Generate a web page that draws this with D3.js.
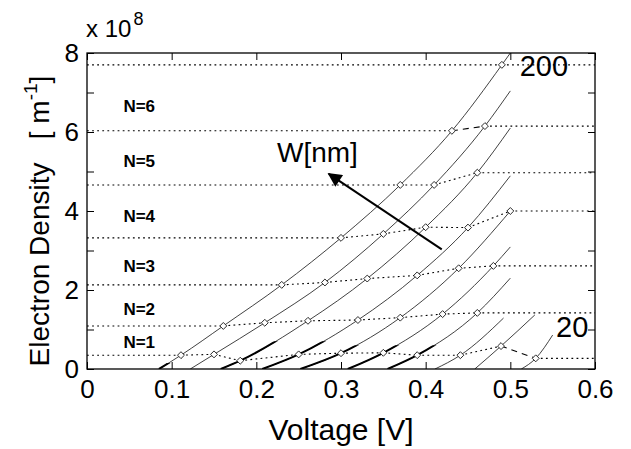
<!DOCTYPE html>
<html>
<head>
<meta charset="utf-8">
<script src="https://cdn.jsdelivr.net/npm/d3@7"></script>
<style>
body { margin: 0; background: #fff; }
text { font-family: "Liberation Sans", Arial, sans-serif; fill: #000; }
</style>
</head>
<body>
<svg id="chart" width="631" height="449"></svg>
<script>
// wire widths, one solid curve each (200 nm on the left, 20 nm on the right)
var widthsNm = [200, 180, 160, 140, 120, 100, 80, 60, 40, 20];
// voltage where each curve leaves the axis [V]
var thresholdV = [0.085, 0.122, 0.158, 0.207, 0.252, 0.308, 0.355, 0.411, 0.458, 0.513];
// diamonds: voltage and density (x 1e8 m^-1) where subband N = 1, 2, ... fills
var subbandV = [
	[0.111, 0.161, 0.230, 0.300, 0.370, 0.431, 0.490],
	[0.150, 0.210, 0.281, 0.350, 0.410, 0.470],
	[0.181, 0.261, 0.331, 0.400, 0.461],
	[0.250, 0.320, 0.390, 0.450],
	[0.300, 0.370, 0.439, 0.500],
	[0.350, 0.420, 0.480],
	[0.390, 0.461],
	[0.441],
	[0.489],
	[0.530]
];
var subbandN = [
	[0.35, 1.09, 2.13, 3.32, 4.66, 6.03, 7.70],
	[0.37, 1.17, 2.19, 3.42, 4.66, 6.15],
	[0.21, 1.22, 2.29, 3.59, 4.97],
	[0.37, 1.24, 2.37, 3.58],
	[0.40, 1.30, 2.55, 4.00],
	[0.41, 1.39, 2.61],
	[0.35, 1.42],
	[0.35],
	[0.58],
	[0.27]
];
// last computed point of each curve
var endV = [0.5, 0.5, 0.5, 0.5, 0.5, 0.5, 0.5, 0.492, 0.529, 0.550];
var endN = [8.0, 7.04, 6.10, 4.89, 4.00, 3.09, 2.30, 1.29, 1.37, 0.86];
// density below which the curve is drawn heavier
var heavyBelowN = [0.15, 0, 0.7, 0.7, 0.6, 0.6, 0.6, 0, 0, 0];
// links drawn dashed instead of dotted: [level index, curve index]
var dashedLinks = [[5, 0], [0, 8]];

var xTicks = [0, 0.1, 0.2, 0.3, 0.4, 0.5, 0.6];
var yTicks = [0, 1, 2, 3, 4, 5, 6, 7, 8];
var yTickLabels = [0, 2, 4, 6, 8];
var nLabels = ["N=1", "N=2", "N=3", "N=4", "N=5", "N=6"];
var nLabelN = [0.53, 1.37, 2.46, 3.72, 5.11, 6.51];

var svg = d3.select("#chart");
var pL = 87, pR = 595, pT = 53, pB = 369;

var x = d3.scaleLinear().domain([0, 0.6]).range([pL, pR]);
var y = d3.scaleLinear().domain([0, 8]).range([pB, pT]);

var defs = svg.append("defs");
defs.append("clipPath").attr("id", "plotclip")
	.append("rect").attr("x", pL).attr("y", pT)
	.attr("width", pR - pL).attr("height", pB - pT);

var plot = svg.append("g").attr("clip-path", "url(#plotclip)");

var line = d3.line()
	.x(function(d) { return x(d[0]); })
	.y(function(d) { return y(d[1]); })
	.curve(d3.curveMonotoneX);

// solid curves
for (var i = 0; i < widthsNm.length; i++) {
	var pts = [[thresholdV[i], 0]];
	for (var k = 0; k < subbandV[i].length; k++) {
		pts.push([subbandV[i][k], subbandN[i][k]]);
	}
	var last = pts[pts.length - 1];
	if (last[0] != endV[i] || last[1] != endN[i]) pts.push([endV[i], endN[i]]);

	plot.append("path")
		.attr("d", line(pts))
		.attr("fill", "none")
		.attr("stroke", "#111")
		.attr("stroke-width", 0.8);

	if (heavyBelowN[i] > 0) {
		var cid = "heavy" + i;
		defs.append("clipPath").attr("id", cid)
			.append("rect").attr("x", pL).attr("width", pR - pL)
			.attr("y", y(heavyBelowN[i])).attr("height", y(0) - y(heavyBelowN[i]));
		plot.append("g").attr("clip-path", "url(#" + cid + ")")
			.append("path")
			.attr("d", line(pts))
			.attr("fill", "none")
			.attr("stroke", "#000")
			.attr("stroke-width", 2);
	}
}

// subband level lines through the diamonds
var nLevels = d3.max(subbandV, function(a) { return a.length; });
var levelPts = [];
for (var lv = 0; lv < nLevels; lv++) {
	var row = [];
	for (var i = 0; i < widthsNm.length; i++) {
		if (subbandV[i].length > lv) row.push({v: subbandV[i][lv], n: subbandN[i][lv], c: i});
	}
	levelPts.push(row);

	var segs = [];
	segs.push({a: [0, row[0].n], b: [row[0].v, row[0].n], dash: false});
	for (var j = 0; j < row.length - 1; j++) {
		var isDashed = dashedLinks.some(function(dl) { return dl[0] == lv && dl[1] == row[j].c; });
		segs.push({a: [row[j].v, row[j].n], b: [row[j + 1].v, row[j + 1].n], dash: isDashed});
	}
	var lp = row[row.length - 1];
	segs.push({a: [lp.v, lp.n], b: [0.6, lp.n], dash: false});

	plot.selectAll(null)
		.data(segs)
		.enter()
		.append("line")
		.attr("x1", function(d) { return x(d.a[0]); })
		.attr("y1", function(d) { return y(d.a[1]); })
		.attr("x2", function(d) { return x(d.b[0]); })
		.attr("y2", function(d) { return y(d.b[1]); })
		.attr("stroke", "#000")
		.attr("stroke-width", 1.1)
		.attr("stroke-dasharray", function(d) { return d.dash ? "6,5" : "1.8,3.3"; });
}

// diamonds
var diamond = d3.symbol().type(d3.symbolSquare).size(24);
plot.selectAll(null)
	.data(d3.merge(levelPts))
	.enter()
	.append("path")
	.attr("d", diamond)
	.attr("transform", function(d) { return "translate(" + x(d.v) + "," + y(d.n) + ") rotate(45)"; })
	.attr("fill", "#fff")
	.attr("stroke", "#222")
	.attr("stroke-width", 0.9);

// axes, ticks pointing inward
var tickLen = 7;
svg.append("g").attr("transform", "translate(0," + pB + ")")
	.call(d3.axisBottom(x).tickValues(xTicks).tickSizeInner(-tickLen).tickSizeOuter(0).tickPadding(11)
		.tickFormat(function(d) { return d3.format("")(+d.toFixed(1)); }))
	.call(function(g) {
		g.select(".domain").remove();
		g.selectAll("text").attr("font-size", 26).attr("font-family", null);
	});
svg.append("g").attr("transform", "translate(0," + pT + ")")
	.call(d3.axisTop(x).tickValues(xTicks).tickSizeInner(-tickLen).tickSizeOuter(0).tickFormat(""))
	.call(function(g) { g.select(".domain").remove(); });
svg.append("g").attr("transform", "translate(" + pL + ",0)")
	.call(d3.axisLeft(y).tickValues(yTicks).tickSizeInner(-tickLen).tickSizeOuter(0).tickPadding(8)
		.tickFormat(function(d) { return yTickLabels.indexOf(d) >= 0 ? d : ""; }))
	.call(function(g) {
		g.select(".domain").remove();
		g.selectAll("text").attr("font-size", 26).attr("font-family", null);
	});
svg.append("g").attr("transform", "translate(" + pR + ",0)")
	.call(d3.axisRight(y).tickValues(yTicks).tickSizeInner(-tickLen).tickSizeOuter(0).tickFormat(""))
	.call(function(g) { g.select(".domain").remove(); });

svg.selectAll(".tick line").attr("stroke", "#000").attr("stroke-width", 1);

svg.append("rect")
	.attr("x", pL).attr("y", pT)
	.attr("width", pR - pL).attr("height", pB - pT)
	.attr("fill", "none").attr("stroke", "#000").attr("stroke-width", 1.3);

// exponent
var ex = svg.append("text").attr("x", pL - 1).attr("y", 37).attr("font-size", 24);
ex.append("tspan").text("x 10");
ex.append("tspan").attr("dx", 2).attr("dy", -12).attr("font-size", 18).text("8");

// axis titles
svg.append("text")
	.attr("x", (pL + pR) / 2).attr("y", 440)
	.attr("text-anchor", "middle").attr("font-size", 30)
	.text("Voltage [V]");

var yl = svg.append("text")
	.attr("transform", "translate(49," + ((pT + pB) / 2 + 10) + ") rotate(-90)")
	.attr("text-anchor", "middle").attr("font-size", 28);
yl.append("tspan").text("Electron Density\u00a0\u00a0 [ m");
yl.append("tspan").attr("dy", -12).attr("font-size", 19).text("-1");
yl.append("tspan").attr("dy", 12).text("]");

// subband labels
svg.selectAll(null)
	.data(nLabels)
	.enter()
	.append("text")
	.attr("x", x(0.043))
	.attr("y", function(d, i) { return y(nLabelN[i]); })
	.attr("font-size", 17)
	.attr("font-weight", "bold")
	.text(function(d) { return d; });

// width labels at the ends of the family
svg.append("text").attr("x", x(0.511)).attr("y", y(7.42)).attr("font-size", 29).text(widthsNm[0]);
svg.append("text").attr("x", x(0.554)).attr("y", y(0.81)).attr("font-size", 29).text(widthsNm[widthsNm.length - 1]);

// arrow for increasing W
defs.append("marker")
	.attr("id", "head").attr("viewBox", "0 0 10 10")
	.attr("refX", 9).attr("refY", 5)
	.attr("markerWidth", 19).attr("markerHeight", 14)
	.attr("markerUnits", "userSpaceOnUse")
	.attr("orient", "auto")
	.append("path").attr("d", "M0,0 L10,5 L0,10 z").attr("fill", "#000");
svg.append("line")
	.attr("x1", x(0.419)).attr("y1", y(3.03))
	.attr("x2", x(0.2855)).attr("y2", y(4.94))
	.attr("stroke", "#000").attr("stroke-width", 2)
	.attr("marker-end", "url(#head)");
svg.append("text").attr("x", 277).attr("y", 162).attr("font-size", 28).text("W[nm]");
</script>
</body>
</html>
